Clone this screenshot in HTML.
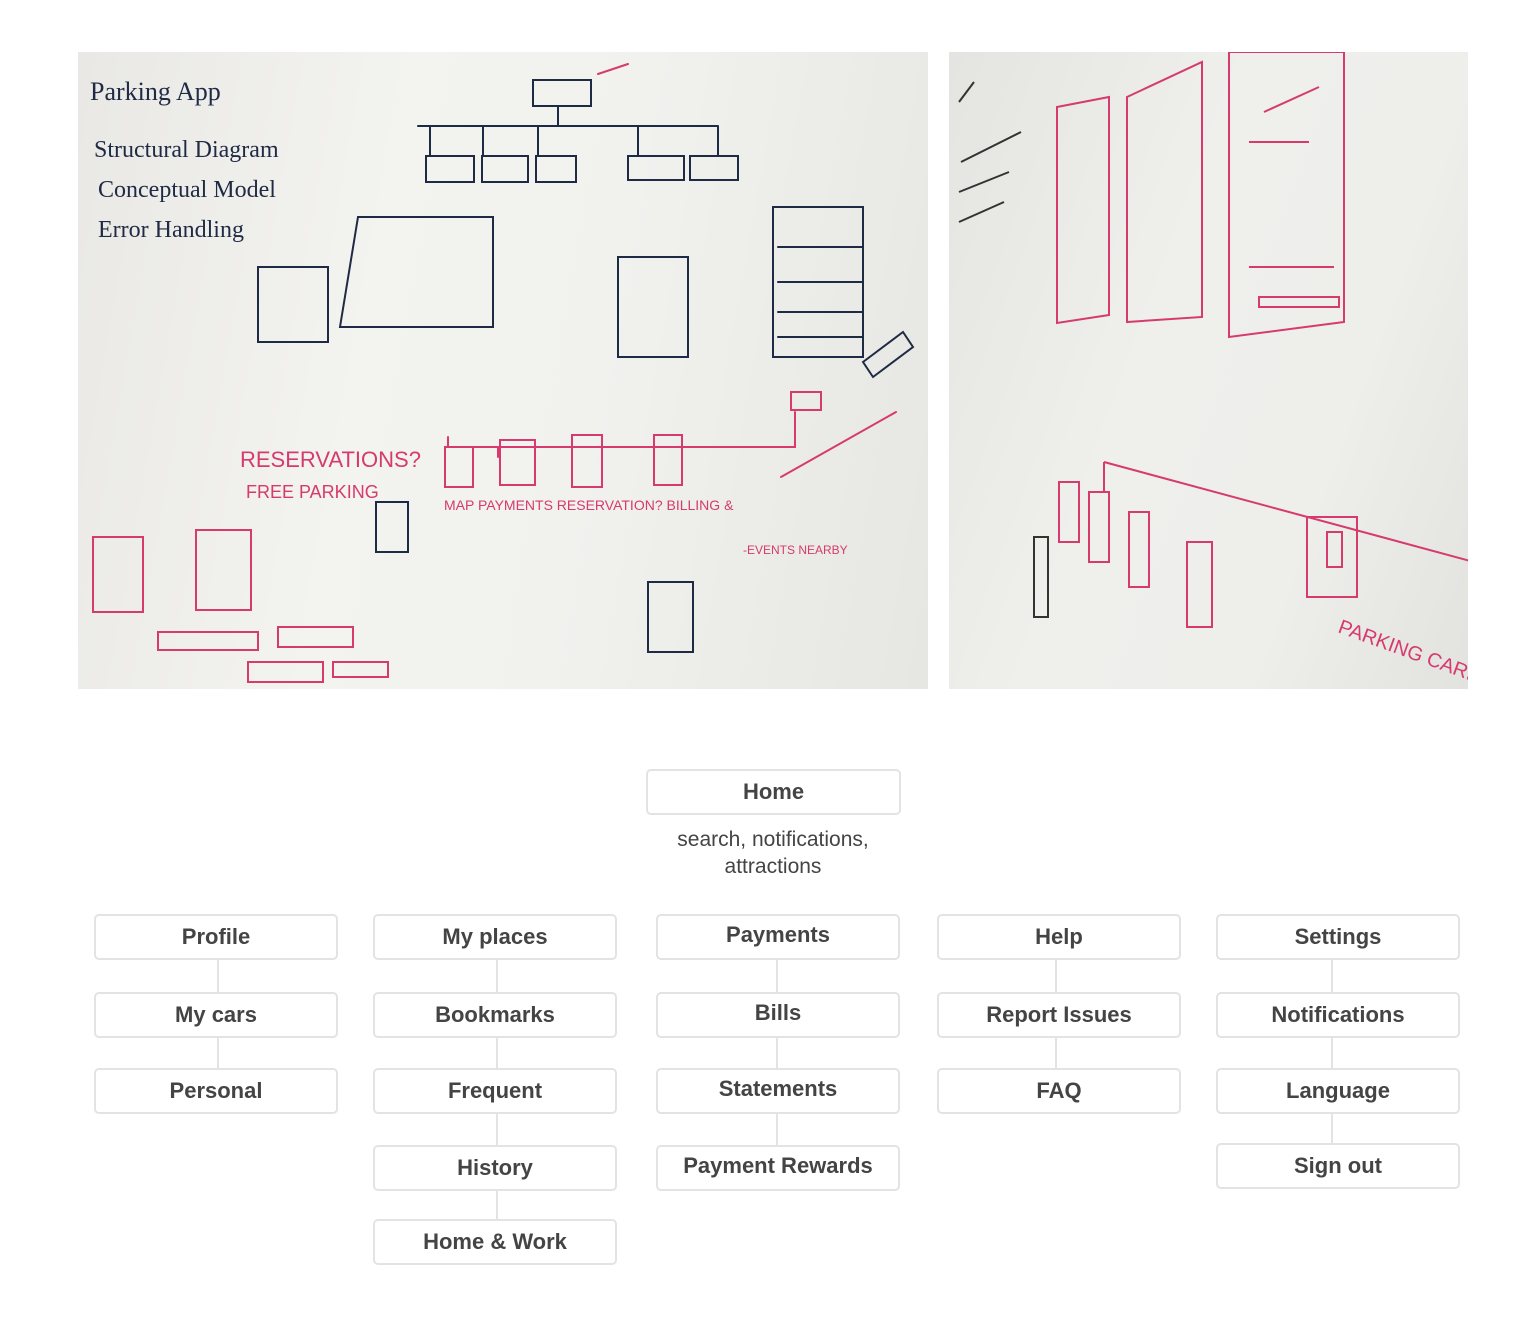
<!DOCTYPE html>
<html><head><meta charset="utf-8"><style>
body{margin:0;background:#fff;width:1528px;height:1342px;position:relative;overflow:hidden;font-family:"Liberation Sans",sans-serif}
.b{position:absolute;width:240px;height:42px;border:2px solid #e3e3e3;border-radius:5px;box-sizing:content-box;text-align:center;line-height:42px;font-weight:bold;font-size:22px;color:#444;background:#fff}
.l{position:absolute;width:2px;background:#e3e3e3}
.ph{position:absolute;overflow:hidden}
</style></head><body>
<div class="ph" style="left:78px;top:52px;width:850px;height:637px;background:linear-gradient(100deg,#e9e8e4 0%,#f3f3ef 35%,#f1f1ee 60%,#e6e6e2 100%)">
<svg width="850" height="637" fill="none" stroke-linecap="round">
<g stroke="#1f2a44" stroke-width="2">
<text x="12" y="48" font-size="26" fill="#1f2a44" stroke="none" font-family="Liberation Serif">Parking App</text>
<text x="16" y="105" font-size="24" fill="#1f2a44" stroke="none" font-family="Liberation Serif">Structural Diagram</text>
<text x="20" y="145" font-size="24" fill="#1f2a44" stroke="none" font-family="Liberation Serif">Conceptual Model</text>
<text x="20" y="185" font-size="24" fill="#1f2a44" stroke="none" font-family="Liberation Serif">Error Handling</text>
<rect x="455" y="28" width="58" height="26"/><path d="M480 54v20M340 74h300M352 74v30M405 74v30M460 74v30M560 74v30M640 74v30"/>
<rect x="348" y="104" width="48" height="26"/><rect x="404" y="104" width="46" height="26"/><rect x="458" y="104" width="40" height="26"/><rect x="550" y="104" width="56" height="24"/><rect x="612" y="104" width="48" height="24"/>
<path d="M280 165h135v110H262zM180 215h70v75h-70zM540 205h70v100h-70zM695 155h90v150h-90z"/>
<path d="M700 195h85M700 230h85M700 260h85M700 285h85M785 310l40-30 10 15-40 30z"/>
</g>
<g stroke="#d63a6e" stroke-width="2">
<path d="M520 22l30-10M367 395h350v-35M713 340h30v18h-30zM703 425l115-65M370 395v-10M420 395v10"/>
<rect x="367" y="395" width="28" height="40"/><rect x="422" y="388" width="35" height="45"/><rect x="494" y="383" width="30" height="52"/><rect x="576" y="383" width="28" height="50"/>
<text x="162" y="415" font-size="22" fill="#d63a6e" stroke="none">RESERVATIONS?</text>
<text x="168" y="446" font-size="18" fill="#d63a6e" stroke="none">FREE PARKING</text>
<path d="M15 485h50v75H15zM118 478h55v80h-55zM80 580h100v18H80zM200 575h75v20h-75zM170 610h75v20h-75zM255 610h55v15h-55z"/>
<text x="366" y="458" font-size="14" fill="#d63a6e" stroke="none">MAP  PAYMENTS  RESERVATION?  BILLING &amp;</text>
<text x="665" y="502" font-size="12" fill="#d63a6e" stroke="none">-EVENTS NEARBY</text>
</g>
<path d="M298 450h32v50h-32z" stroke="#1f2a44" stroke-width="2"/>
<path d="M570 530h45v70h-45z" stroke="#1f2a44" stroke-width="2"/>
</svg></div>
<div class="ph" style="left:949px;top:52px;width:519px;height:637px;background:linear-gradient(110deg,#e4e4e1 0%,#efefec 40%,#eeeeeb 70%,#e2e2df 100%)">
<svg width="519" height="637" fill="none" stroke="#d63a6e" stroke-width="2">
<path d="M108 55l52-10v218l-52 8zM178 45l75-35v255l-75 5zM290 0h105v270l-115 15V0zM300 90h60M315 60l55-25M300 215h85M310 255h80v-10h-80z" />
<path d="M155 410l370 100M155 410v30M110 430h20v60h-20zM140 440h20v70h-20zM180 460h20v75h-20zM238 490h25v85h-25zM358 465h50v80h-50zM378 480h15v35h-15z"/>
<path d="M85 485h14v80H85z" stroke="#333"/>
<text x="388" y="580" font-size="20" fill="#d63a6e" stroke="none" transform="rotate(20 388 580)">PARKING CARD</text>
<path d="M10 50l15-20M12 110l60-30M10 140l50-20M10 170l45-20" stroke="#333"/>
</svg></div>

<div class="b" style="left:646px;top:769px;width:251px">Home</div>
<div style="position:absolute;left:600px;width:346px;top:826px;text-align:center;font-size:21px;line-height:27px;color:#444">search, notifications,<br>attractions</div>

<div class="l" style="left:217px;top:959px;height:33px"></div><div class="l" style="left:217px;top:1037px;height:31px"></div>
<div class="l" style="left:496px;top:959px;height:33px"></div><div class="l" style="left:496px;top:1037px;height:31px"></div><div class="l" style="left:496px;top:1113px;height:32px"></div><div class="l" style="left:496px;top:1190px;height:29px"></div>
<div class="l" style="left:776px;top:959px;height:33px"></div><div class="l" style="left:776px;top:1037px;height:31px"></div><div class="l" style="left:776px;top:1113px;height:32px"></div>
<div class="l" style="left:1055px;top:959px;height:33px"></div><div class="l" style="left:1055px;top:1037px;height:31px"></div>
<div class="l" style="left:1331px;top:959px;height:33px"></div><div class="l" style="left:1331px;top:1037px;height:31px"></div><div class="l" style="left:1331px;top:1113px;height:30px"></div>

<div class="b" style="left:94px;top:914px">Profile</div>
<div class="b" style="left:94px;top:992px">My cars</div>
<div class="b" style="left:94px;top:1068px">Personal</div>
<div class="b" style="left:373px;top:914px">My places</div>
<div class="b" style="left:373px;top:992px">Bookmarks</div>
<div class="b" style="left:373px;top:1068px">Frequent</div>
<div class="b" style="left:373px;top:1145px">History</div>
<div class="b" style="left:373px;top:1219px">Home &amp; Work</div>
<div class="b" style="left:656px;top:914px;line-height:38px">Payments</div>
<div class="b" style="left:656px;top:992px;line-height:38px">Bills</div>
<div class="b" style="left:656px;top:1068px;line-height:38px">Statements</div>
<div class="b" style="left:656px;top:1145px;line-height:38px">Payment Rewards</div>
<div class="b" style="left:937px;top:914px">Help</div>
<div class="b" style="left:937px;top:992px">Report Issues</div>
<div class="b" style="left:937px;top:1068px">FAQ</div>
<div class="b" style="left:1216px;top:914px">Settings</div>
<div class="b" style="left:1216px;top:992px">Notifications</div>
<div class="b" style="left:1216px;top:1068px">Language</div>
<div class="b" style="left:1216px;top:1143px">Sign out</div>
</body></html>
